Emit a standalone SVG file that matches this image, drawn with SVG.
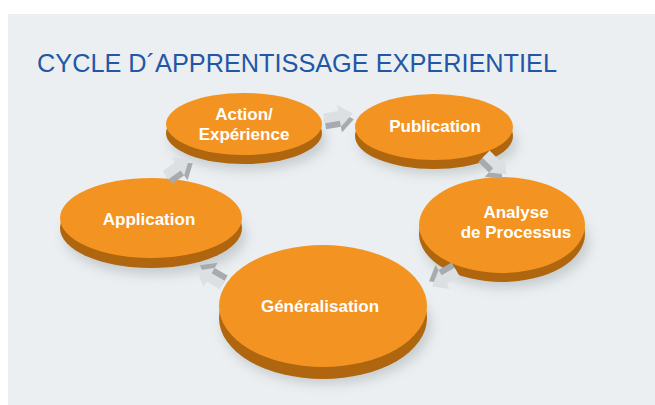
<svg xmlns="http://www.w3.org/2000/svg" width="655" height="405" viewBox="0 0 655 405">
<defs>
<style>
.top{fill:#f39422}
.base{fill:#b0650f}
.lbl{font-family:"Liberation Sans",Arial,sans-serif;font-weight:bold;font-size:17px;fill:#ffffff;text-anchor:middle}
.title{font-family:"Liberation Sans",Arial,sans-serif;font-size:26px;fill:#2257a8}
.af{fill:#dde0e3}
.ad{fill:#a7abaf}
</style>
<filter id="sh" x="-30%" y="-30%" width="160%" height="160%"><feGaussianBlur stdDeviation="6"/></filter>
<g id="arr">
<polygon class="ad" points="-14,1 1,1 1,-5 15,6 1,17 1,11 -14,11"/>
<polygon class="af" points="-14,-5 1,-5 1,-11 15,0 1,11 1,5 -14,5"/>
</g>
</defs>
<rect x="8" y="14" width="647" height="391" fill="#ebeff1"/>
<text class="title" x="37" y="72" textLength="520" lengthAdjust="spacingAndGlyphs">CYCLE D´APPRENTISSAGE EXPERIENTIEL</text>

<g id="shadows" fill="#9aa0a6" opacity="0.45" filter="url(#sh)">
<ellipse cx="248" cy="140" rx="78" ry="30"/>
<ellipse cx="438" cy="143" rx="79" ry="31"/>
<ellipse cx="506" cy="242" rx="83" ry="46"/>
<ellipse cx="155" cy="236" rx="91" ry="39"/>
<ellipse cx="327" cy="326" rx="104" ry="58"/>
</g>

<g id="action">
<ellipse class="base" cx="244" cy="133" rx="78" ry="31"/>
<ellipse class="top" cx="244" cy="124" rx="78" ry="31"/>
<text class="lbl" x="244" y="120">Action/</text>
<text class="lbl" x="244" y="140">Expérience</text>
</g>
<g id="publication">
<ellipse class="base" cx="434" cy="136" rx="79" ry="33"/>
<ellipse class="top" cx="434" cy="127" rx="79" ry="33"/>
<text class="lbl" x="435" y="132">Publication</text>
</g>
<g id="analyse">
<ellipse class="base" cx="502" cy="234" rx="83" ry="48"/>
<ellipse class="top" cx="502" cy="225" rx="83" ry="48"/>
<text class="lbl" x="516" y="218">Analyse</text>
<text class="lbl" x="516" y="238">de Processus</text>
</g>
<g id="application">
<ellipse class="base" cx="151" cy="228" rx="91" ry="40"/>
<ellipse class="top" cx="151" cy="218" rx="91" ry="40"/>
<text class="lbl" x="149" y="225">Application</text>
</g>
<g id="generalisation">
<ellipse class="base" cx="323" cy="318" rx="104" ry="61"/>
<ellipse class="top" cx="323" cy="306" rx="104" ry="61"/>
<text class="lbl" x="320" y="312">Généralisation</text>
</g>

<g id="connectors">
<use href="#arr" transform="translate(338,116) rotate(-10)"/>
<use href="#arr" transform="translate(496,164) rotate(45)"/>
<use href="#arr" transform="translate(445,279) rotate(150)"/>
<use href="#arr" transform="translate(210,278) rotate(210)"/>
<use href="#arr" transform="translate(177,167) rotate(-35)"/>
</g>
</svg>
